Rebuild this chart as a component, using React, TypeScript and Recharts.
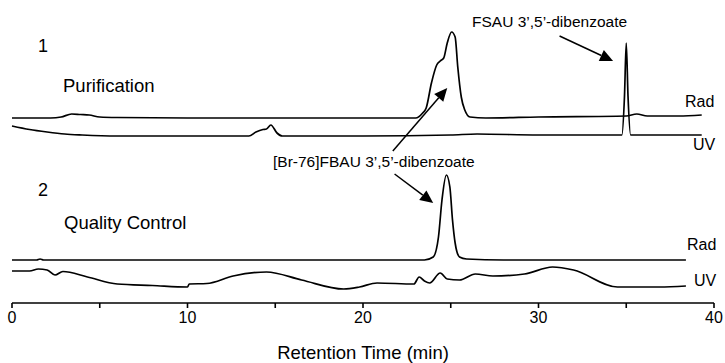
import { Line, LineChart, ReferenceLine, XAxis, YAxis } from "recharts";

// retention time (min) and detector signal above each trace's baseline
const rad1Time = [0, 2.2, 2.8, 3.4, 3.9, 4.4, 5.0, 6.0, 10, 15, 20, 23.0, 23.4, 23.6, 23.9, 24.2, 24.4, 24.6, 24.8, 25.05, 25.25, 25.4, 25.6, 25.8, 26.1, 27, 30, 35, 35.6, 36.2, 38, 39.3];
const rad1Signal = [0, 0, 1, 4, 3.5, 3, 1, 0.5, 0, 0, 0, 0, 5, 10, 35, 53, 57, 60, 75, 86, 81, 51, 21, 8, 1, 0, 1, 2, 4, 2, 2, 3];

const uv1Time = [0, 1, 2, 3, 4, 6, 10, 13.5, 13.9, 14.3, 14.5, 14.75, 15.1, 15.4, 20, 25, 26.5, 30, 34.75, 34.9, 35.0, 35.1, 35.25, 36, 39.3];
const uv1Signal = [10, 6.5, 4, 2, 1, 0, 0, 0, 4, 6.5, 7, 11, 3, 0, 0, 1, 2, 1, 1, 40, 93, 40, 1, 1, 1];

const rad2Time = [0, 1.4, 1.6, 1.8, 5, 10, 15, 20, 23.5, 24.0, 24.3, 24.5, 24.75, 24.95, 25.1, 25.25, 25.5, 25.9, 28, 32, 38.4];
const rad2Signal = [0, 0, 1, 0, 0, 0, 0, 0, 0, 3, 23, 60, 85, 73, 40, 17, 3, 1, 0, 0, 0];

const uv2Time = [0, 1.0, 1.5, 2.0, 2.45, 2.9, 4.3, 6.0, 8.0, 10.0, 10.1, 11.1, 12.6, 14.5, 16.5, 18.9, 19.8, 20.8, 22.9, 23.2, 23.5, 23.8, 24.4, 24.8, 25.5, 26.4, 27.4, 29.2, 30.8, 32.0, 34.5, 36.9, 38.4];
const uv2Signal = [19, 19, 21, 20, 15, 18.5, 13, 6, 4.5, 3, 6, 6.5, 14, 18, 10, 1, 3, 7, 6, 13, 9, 7, 17, 11, 10, 16, 14, 16, 23, 20, 3, 3, 4];

const xTicks = [0, 5, 10, 15, 20, 25, 30, 35, 40];

// vertical stacking of the four traces
const offsets = { rad1: 185, uv1: 167, rad2: 43, uv2: 13 };

const build = (t: number[], s: number[], off: number) => t.map((x, i) => ({ t: x, v: off + s[i] }));

const rad1 = build(rad1Time, rad1Signal, offsets.rad1);
const uv1 = build(uv1Time, uv1Signal, offsets.uv1);
const rad2 = build(rad2Time, rad2Signal, offsets.rad2);
const uv2 = build(uv2Time, uv2Signal, offsets.uv2);

const font = "'Liberation Sans', Arial, sans-serif";

function Arrow(props: any) {
  const { x1, y1, x2, y2 } = props;
  const dx = x2 - x1;
  const dy = y2 - y1;
  const len = Math.sqrt(dx * dx + dy * dy);
  const ux = dx / len;
  const uy = dy / len;
  const hl = 13;
  const hw = 6;
  const bx = x2 - ux * hl;
  const by = y2 - uy * hl;
  const pts = `${x2},${y2} ${bx - uy * hw},${by + ux * hw} ${bx + uy * hw},${by - ux * hw}`;
  return (
    <g>
      <line x1={x1} y1={y1} x2={bx} y2={by} stroke="#000" strokeWidth={1.5} />
      <polygon points={pts} fill="#000" />
    </g>
  );
}

const tracks = [rad1, uv1, rad2, uv2];

export default function App() {
  return (
    <div style={{ position: "absolute", left: 0, top: 0, width: 725, height: 363, background: "#fff" }}>
      <LineChart width={725} height={363} margin={{ top: 10, right: 11, left: 12, bottom: 0 }}>
        <XAxis
          dataKey="t"
          type="number"
          domain={[0, 40]}
          ticks={xTicks}
          tickFormatter={(v: number) => (v % 10 === 0 ? String(v) : "")}
          tickSize={5}
          tickMargin={4}
          height={60}
          stroke="#000"
          strokeWidth={1.6}
          tick={{ fill: "#000", fontSize: 16, fontFamily: font }}
          label={{ value: "Retention Time (min)", position: "insideBottom", offset: 4, fill: "#000", fontSize: 18.5, fontFamily: font }}
        />
        <YAxis hide type="number" domain={[0, 293]} />
        {tracks.map((d, i) => (
          <Line
            key={i}
            data={d}
            dataKey="v"
            type="monotone"
            stroke="#000"
            strokeWidth={1.7}
            dot={false}
            isAnimationActive={false}
          />
        ))}
        <ReferenceLine segment={[{ x: 31.2, y: 267 }, { x: 34.25, y: 242 }]} shape={Arrow} />
        <ReferenceLine segment={[{ x: 21.7, y: 152 }, { x: 24.8, y: 215 }]} shape={Arrow} />
        <ReferenceLine segment={[{ x: 21.8, y: 129 }, { x: 24.0, y: 100 }]} shape={Arrow} />
      </LineChart>
      <svg width={725} height={363} style={{ position: "absolute", left: 0, top: 0, pointerEvents: "none" }} fontFamily={font} fill="#000">
        <text x={38} y={52} fontSize={18}>1</text>
        <text x={63} y={92} fontSize={18.5}>Purification</text>
        <text x={38} y={196} fontSize={18}>2</text>
        <text x={64} y={229} fontSize={18.5}>Quality Control</text>
        <text x={685} y={107} fontSize={16}>Rad</text>
        <text x={693} y={150} fontSize={16}>UV</text>
        <text x={687} y={250} fontSize={16}>Rad</text>
        <text x={694} y={286} fontSize={16}>UV</text>
        <text x={472} y={27} fontSize={15.5}>FSAU 3’,5’-dibenzoate</text>
        <text x={273} y={167} fontSize={15.5}>[Br-76]FBAU 3’,5’-dibenzoate</text>
      </svg>
    </div>
  );
}
